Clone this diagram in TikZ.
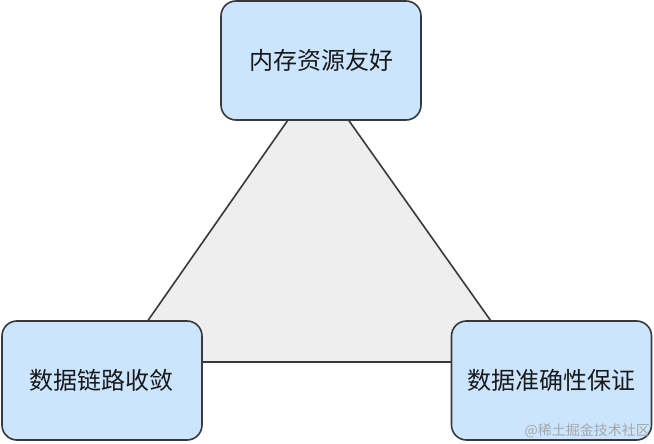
\documentclass[tikz,border=0pt]{standalone}
\usepackage{fontspec}
\newfontfamily\cjk{Noto Sans CJK SC}
\definecolor{boxfill}{HTML}{CCE5FF}
\definecolor{boxline}{HTML}{36393D}
\definecolor{trifill}{HTML}{EEEEEE}

\begin{document}
\begin{tikzpicture}[
  x=1pt,y=-1pt,
  font=\cjk\fontsize{24}{28}\selectfont,
  box/.style={draw=boxline,fill=boxfill,rounded corners=15pt,line width=1.6pt,
    minimum width=200pt,minimum height=119pt,inner sep=0pt,text=black!90},
  tri/.style={draw=boxline,fill=trifill,line width=1.6pt},
  stamp/.style={font=\cjk\fontsize{14}{16}\selectfont,text=black!35,inner sep=0pt},
  every path/.style={line cap=round,line join=round}
]
  \useasboundingbox (0,0) rectangle (654,444);

  \coordinate (apex) at (318,77);
  \coordinate (base-left) at (119,362);
  \coordinate (base-right) at (520,362);
  \path[tri] (apex) -- (base-left) -- (base-right) -- cycle;

  \node[box] (memory) at (321,60.5) {内存资源友好};
  \node[box] (converge) at (102,380.5) {数据链路收敛};
  \node[box] (accuracy) at (551.5,380.5) {数据准确性保证};

  \node[stamp,anchor=east] (watermark) at (650,431) {@稀土掘金技术社区};
\end{tikzpicture}
\end{document}
